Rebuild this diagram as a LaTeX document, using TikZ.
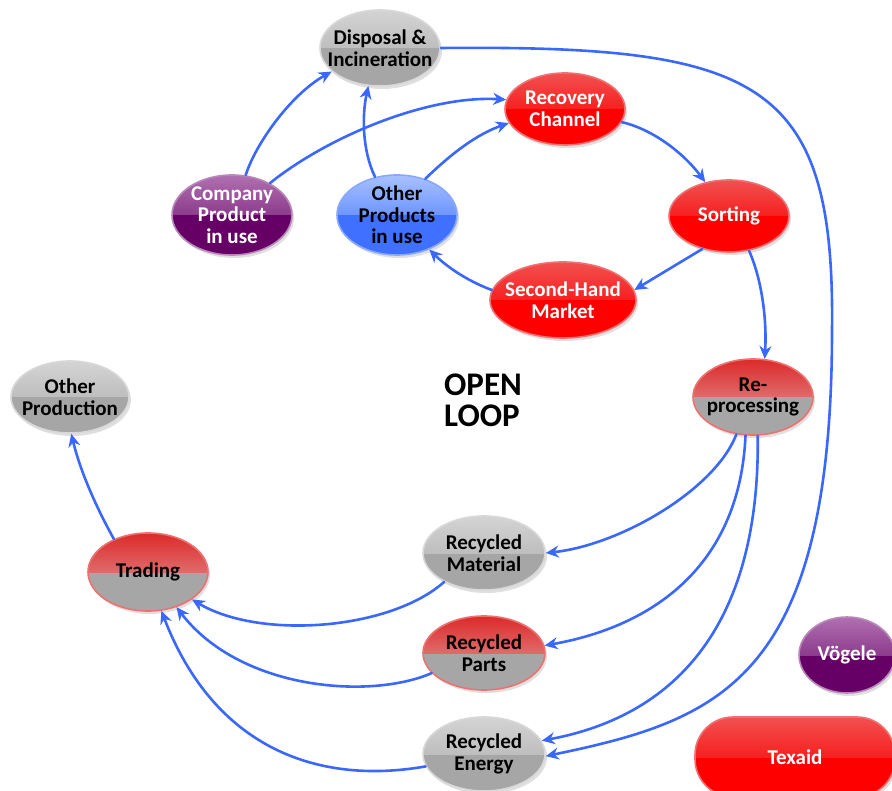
\documentclass[tikz,border=0pt]{standalone}
\usepackage{fontspec}
\setmainfont{Carlito}
\usepackage{tikz}
\usetikzlibrary{shapes.geometric,arrows.meta,shadows}
\definecolor{flowblue}{HTML}{3A68FF}
\definecolor{redtop}{HTML}{F25050}
\definecolor{redmid}{HTML}{F72020}
\definecolor{redbot}{HTML}{FF0000}
\definecolor{rededge}{HTML}{F07070}
\definecolor{mixtop}{HTML}{DC2A2A}
\definecolor{mixmid}{HTML}{E06A6A}
\definecolor{greytop}{HTML}{D4D4D4}
\definecolor{greymid}{HTML}{BEBEBE}
\definecolor{greybot}{HTML}{A6A6A6}
\definecolor{greyedge}{HTML}{D8D8D8}
\definecolor{purtop}{HTML}{B070B0}
\definecolor{purmid}{HTML}{8C3C8C}
\definecolor{purbot}{HTML}{660066}
\definecolor{puredge}{HTML}{B888B8}
\definecolor{bluetop}{HTML}{A8C0FF}
\definecolor{bluemid}{HTML}{6E96FF}
\definecolor{bluebot}{HTML}{4070FF}
\definecolor{blueedge}{HTML}{88A8FF}
\tikzset{
  blob/.style={ellipse, minimum width=120pt, minimum height=74pt, inner xsep=-24pt, inner ysep=-10pt,
    align=center, font=\bfseries\fontsize{21}{21.5}\selectfont, line width=1.6pt,
    drop shadow={opacity=0.25, shadow xshift=2pt, shadow yshift=-3pt}},
  tone/.style n args={3}{path picture={
    \fill[sharp corners,#3] (path picture bounding box.south west) rectangle (path picture bounding box.east);
    \shade[sharp corners,top color=#1, bottom color=#2] (path picture bounding box.north west) rectangle (path picture bounding box.east);
  }},
  redb/.style={blob, tone={redtop}{redmid}{redbot}, draw=rededge, text=white},
  mixb/.style={blob, tone={mixtop}{mixmid}{greybot}, draw=rededge, text=black},
  greyb/.style={blob, tone={greytop}{greymid}{greybot}, draw=greyedge, text=black},
  purb/.style={blob, tone={purtop}{purmid}{purbot}, draw=puredge, text=white},
  blueb/.style={blob, tone={bluetop}{bluemid}{bluebot}, draw=blueedge, text=black},
  conn/.style={draw=flowblue, line width=2.6pt, line cap=round, -{Stealth[length=13pt,width=12pt]}},
}
\begin{document}
\begin{tikzpicture}[x=1pt,y=-1pt]
  \useasboundingbox (0,0) rectangle (892,791);
  \clip (0,0) rectangle (892,791);

  % nodes
  \node[greyb, minimum height=76pt] (dis) at (380,48) {Disposal \&\\Incineration};
  \node[redb, minimum height=72pt] (rec) at (565,109) {Recovery\\Channel};
  \node[purb, minimum height=80pt] (comp) at (232,215) {Company\\Product\\in use};
  \node[blueb, minimum height=80pt] (oth) at (397,215) {Other\\Products\\in use};
  \node[redb, minimum height=72pt] (sor) at (729,216) {Sorting};
  \node[redb, minimum width=146pt, minimum height=76pt] (sh) at (563,300) {Second-Hand\\Market};
  \node[greyb, minimum width=118pt, minimum height=72pt] (op) at (70,397) {Other\\Production};
  \node[mixb, minimum height=76pt] (rep) at (753,397) {Re-\\processing};
  \node[greyb, minimum width=122pt] (rm) at (484,553) {Recycled\\Material};
  \node[mixb, minimum height=78pt] (tra) at (148,572) {Trading};
  \node[mixb, minimum width=122pt] (rp) at (484,653) {Recycled\\Parts};
  \node[greyb, minimum width=122pt] (re) at (484,754) {Recycled\\Energy};
  \node[purb, minimum width=96pt, minimum height=76pt] (vog) at (847,655) {Vögele};
  \node[redb, rectangle, rounded corners=38pt, minimum width=200pt, minimum height=80pt] (tex) at (795,757) {Texaid};

  \node[font=\bfseries\fontsize{33}{31}\selectfont, align=left] (loop) at (483,400) {OPEN\\LOOP};

  % connectors
  \draw[conn] (comp.71) .. controls (255,145) and (290,95) .. (dis.206);
  \draw[conn] (comp.40) .. controls (330,135) and (430,95) .. (rec.171);
  \draw[conn] (oth.120) .. controls (362,150) and (362,115) .. (dis.253);
  \draw[conn] (oth.52) .. controls (450,155) and (475,135) .. (rec.194);
  \draw[conn] (rec.347) .. controls (655,130) and (685,155) .. (sor.125);
  \draw[conn] (sor.231) -- (sh.8);
  \draw[conn] (sh.172) .. controls (465,280) and (445,265) .. (oth.313);
  \draw[conn] (sor.300) .. controls (762,280) and (767,320) .. (rep.73);
  \draw[conn] (rep.246) .. controls (715,490) and (620,545) .. (rm.0);
  \draw[conn] (rep.259) .. controls (740,560) and (660,625) .. (rp.7);
  \draw[conn] (rep.277) .. controls (760,620) and (680,715) .. (re.13);
  \draw[conn] (dis.east) .. controls (760,45) and (835,80) .. (832,330)
    .. controls (832,680) and (720,720) .. (re.358);
  \draw[conn] (rm.216) .. controls (390,630) and (260,640) .. (tra.328);
  \draw[conn] (rp.201) .. controls (370,700) and (240,690) .. (tra.309);
  \draw[conn] (re.192) .. controls (320,785) and (215,750) .. (tra.289);
  \draw[conn] (tra.136) .. controls (95,505) and (80,470) .. (op.272);
\end{tikzpicture}
\end{document}
